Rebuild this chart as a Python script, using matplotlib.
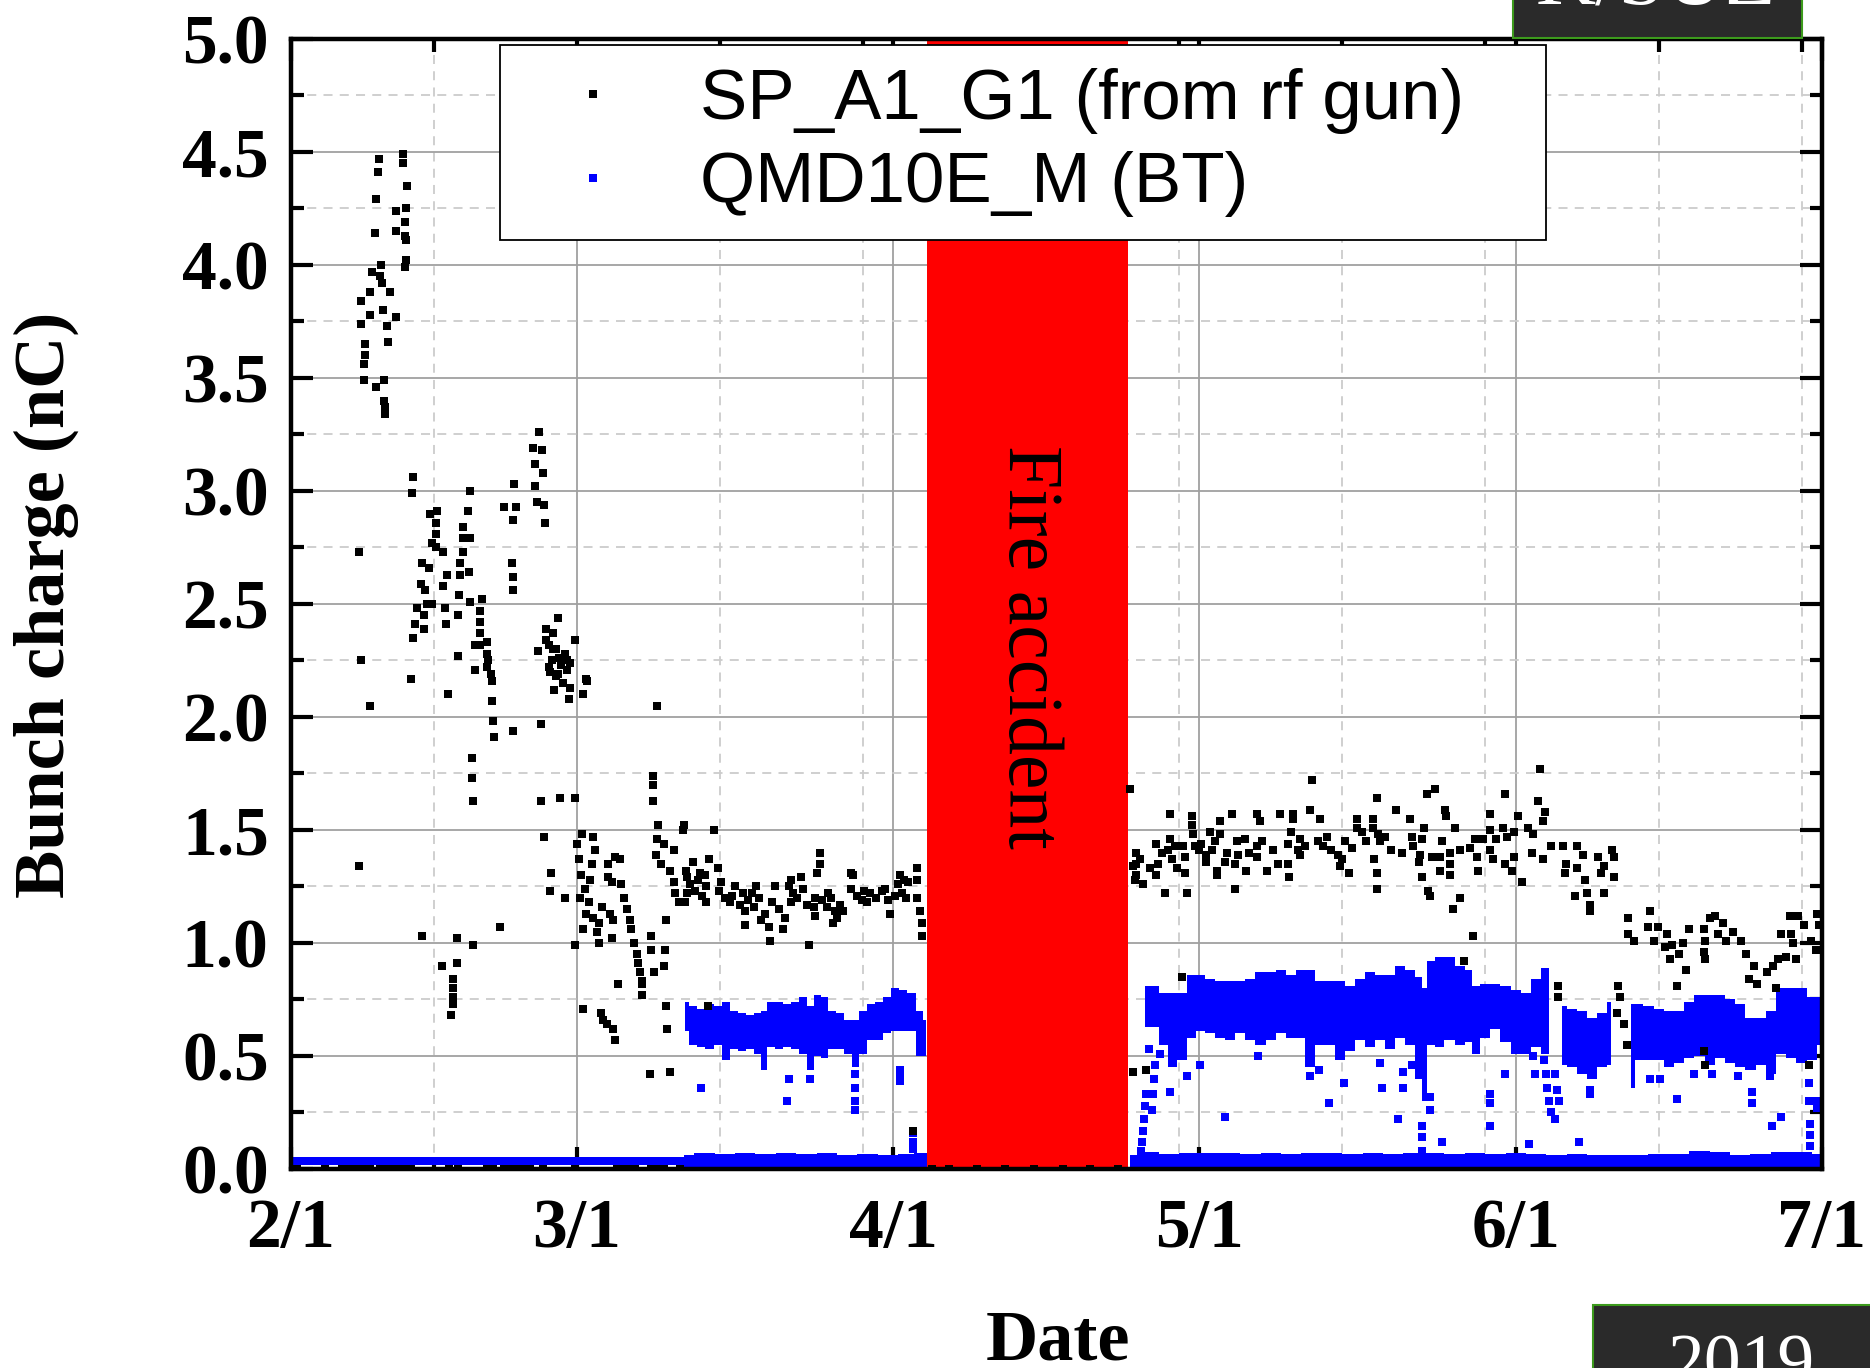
import matplotlib
matplotlib.use("Agg")
import matplotlib.pyplot as plt
from matplotlib.lines import Line2D
from matplotlib.patches import Rectangle

# x = days since 2019-02-01, y = bunch charge (nC)
date_ticks = [0, 28, 59, 89, 120, 150]
date_labels = ["2/1", "3/1", "4/1", "5/1", "6/1", "7/1"]
date_minor = [14, 42, 56, 73, 87, 103, 117, 134, 148]

fire_start, fire_end = 62.3, 82.0

# SP_A1_G1 (from rf gun), black points
sp_feb = [(6.7,1.34),(6.7,2.73),(6.9,2.25),(7.7,2.05),
    (8.6,4.47),(11.0,4.49),(11.0,4.45),(8.5,4.41),(11.4,4.35),(8.3,4.29),(10.3,4.24),(11.3,4.25),
    (11.2,4.19),(8.2,4.14),(10.3,4.15),(11.2,4.13),(11.3,4.11),(11.3,4.02),(11.2,3.99),(8.8,4.00),
    (7.9,3.97),(8.7,3.95),(8.9,3.92),(9.7,3.88),(7.7,3.88),(6.9,3.84),(9.0,3.80),(7.7,3.78),
    (10.3,3.77),(6.9,3.74),(9.4,3.73),(9.5,3.66),(7.3,3.65),(7.3,3.60),(7.2,3.56),(7.2,3.49),
    (9.1,3.49),(8.3,3.46),(9.1,3.40),(9.2,3.37),(9.2,3.34),
    (24.3,3.26),(23.7,3.19),(24.6,3.18),(23.9,3.12),(24.7,3.08),(21.9,3.03),(23.9,3.02),(17.5,3.00),
    (12.0,3.06),(11.9,2.99),(20.9,2.93),(22.0,2.93),(24.1,2.95),(24.8,2.94),(21.8,2.87),(24.9,2.86),
    (17.3,2.91),(14.3,2.91),(13.6,2.90),(14.2,2.86),(14.2,2.81),(14.2,2.75),(16.9,2.84),(16.9,2.79),
    (16.9,2.73),(17.5,2.79),(13.8,2.77),(14.9,2.73),(12.8,2.68),(13.5,2.66),(15.3,2.63),(16.6,2.68),
    (16.6,2.63),(17.4,2.64),(21.7,2.68),(21.8,2.62),(21.8,2.56),(12.7,2.59),(13.1,2.56),(14.9,2.58),
    (16.5,2.54),(17.5,2.51),(13.3,2.50),(13.8,2.50),(15.1,2.48),(12.3,2.48),(13.0,2.45),(16.4,2.45),
    (15.2,2.41),(12.2,2.41),(13.0,2.39),(12.0,2.35),(18.7,2.52),(18.5,2.47),(18.5,2.42),(18.5,2.37),
    (18.5,2.32),(19.2,2.33),(19.2,2.28),(19.2,2.22),(18.0,2.32),(16.4,2.27),(18.0,2.21),(26.2,2.44),
    (25.0,2.39),(25.7,2.37),(27.8,2.34),(24.2,2.29),(25.3,2.32),(26.0,2.30),(26.8,2.28),(25.6,2.25),
    (26.5,2.23),(27.3,2.24),(25.4,2.20),(26.2,2.19),(27.0,2.21),(28.9,2.17),(11.8,2.17),
    (15.4,2.10),(19.3,2.25),(19.6,2.19),(19.7,2.16),(19.7,2.07),(19.8,1.98),(19.9,1.91),(21.8,1.94),
    (24.5,1.97),(17.7,1.82),(17.7,1.73),(17.8,1.63),(24.5,1.63),(26.4,1.64),(27.8,1.64),(24.8,1.47),
    (25.5,1.31),(25.4,1.23),(26.8,1.20),(20.5,1.07),(12.8,1.03),(16.3,1.02),(17.8,0.99),(14.8,0.90),
    (16.3,0.91),(15.9,0.84),(15.9,0.80),(15.9,0.76),(15.9,0.73),(15.7,0.68),
    (25.0,2.34),(25.7,2.30),(26.3,2.26),(27.0,2.25),(25.3,2.22),(26.0,2.18),(26.7,2.15),(27.3,2.13),
    (25.8,2.12),(27.2,2.08),(28.6,2.10),(29.0,2.16),(27.8,0.99)]

sp_mar = [(28.5,1.48),(29.6,1.47),(28.0,1.44),(29.8,1.41),(28.2,1.37),(29.5,1.35),(28.4,1.30),
    (29.3,1.28),(28.8,1.24),(28.3,1.20),(29.2,1.18),(30.5,1.16),(28.9,1.13),(29.6,1.11),(30.2,1.09),
    (28.6,1.06),(30.0,1.05),(30.2,1.00),(28.6,0.71),(30.4,0.69),(30.6,0.66),(31.0,0.64),(31.6,0.62),
    (31.7,0.57),(31.1,1.35),(31.7,1.38),(32.2,1.37),(31.1,1.29),(31.5,1.27),(32.3,1.26),(32.6,1.20),
    (32.9,1.15),(33.2,1.10),(33.3,1.06),(33.6,1.00),(33.9,0.95),(34.0,0.91),(34.2,0.87),(34.4,0.83),
    (31.3,1.13),(31.6,1.10),(31.5,1.02),(34.4,0.82),(34.4,0.77),(32.0,0.82),(35.3,1.03),(35.3,0.97),
    (36.6,0.97),(36.5,0.90),(35.6,0.87),(36.7,1.10),(36.7,0.72),(36.8,0.62),(35.2,0.42),(37.1,0.43),
    (35.5,1.74),(35.5,1.70),(35.5,1.63),(35.9,2.05),(36.0,1.52),(38.5,1.52),(35.9,1.46),(36.5,1.44),
    (35.8,1.39),(37.5,1.41),(36.3,1.35),(37.1,1.32),(37.5,1.27),(37.6,1.22),(38.0,1.18),(38.7,1.32),
    (38.8,1.22),
    (38.4,1.50),(41.4,1.50),(39.4,1.36),(41.0,1.37),(41.8,1.33),(38.8,1.29),(40.1,1.31),(40.6,1.30),
    (39.1,1.26),(40.7,1.25),(39.6,1.23),(38.6,1.18),(40.7,1.18),(41.9,1.23),(42.5,1.20),(43.0,1.18),
    (43.5,1.25),(44.3,1.22),(44.0,1.17),(44.5,1.14),(44.5,1.08),(45.6,1.25),(45.9,1.20),(45.4,1.16),
    (46.4,1.13),(46.1,1.10),(46.8,1.07),(46.9,1.01),(47.4,1.25),(47.1,1.18),(48.4,1.11),(48.2,1.06),
    (49.0,1.28),(50.0,1.29),(50.2,1.24),(49.2,1.22),(49.0,1.18),(50.8,0.99),(51.8,1.40),(51.8,1.35),
    (51.5,1.31),(51.3,1.20),(51.2,1.16),(51.3,1.12),(52.6,1.22),(52.5,1.16),(53.3,1.14),(53.1,1.09),
    (54.1,1.14),(53.5,1.11),(54.9,1.31),(55.1,1.30),(54.9,1.24),(56.1,1.23),(55.9,1.19),(56.7,1.22),
    (58.2,1.24),(58.5,1.19),(59.2,1.21),(58.7,1.13),(59.7,1.30),(59.5,1.26),(60.5,1.27),(61.3,1.33),
    (61.3,1.28),(60.3,1.20),(61.3,1.20),(61.6,1.14),(61.8,1.09),(61.8,1.03),(60.9,0.17),(40.9,0.72),
    (39.9,1.28),(40.3,1.21),(42.1,1.27),(43.2,1.21),(44.8,1.19),(45.2,1.22),(47.8,1.15),(48.8,1.25),
    (49.6,1.20),(50.6,1.17),(52.0,1.19),(52.9,1.20),(53.8,1.17),(55.5,1.21),(56.4,1.18),(57.3,1.20),
    (57.9,1.23),(59.9,1.22),(60.1,1.28)]

sp_may = [(82.2,1.68),(82.5,0.43),(83.8,0.44),(87.3,0.85),
    (82.8,1.40),(82.8,1.35),(82.8,1.30),(82.7,1.28),(83.5,1.26),(82.5,1.34),(84.8,1.44),(85.3,1.40),
    (84.9,1.35),(84.8,1.30),(86.1,1.57),(86.1,1.46),(86.6,1.43),(87.4,1.43),(87.6,1.38),(86.3,1.37),
    (86.8,1.33),(87.6,1.31),(85.6,1.22),(87.8,1.22),(88.3,1.56),(88.3,1.52),(88.4,1.48),(88.6,1.43),
    (89.2,1.44),(89.7,1.39),(89.7,1.36),(90.7,1.32),(90.7,1.30),(90.0,1.49),(91.0,1.54),(91.0,1.48),
    (90.5,1.45),(91.7,1.40),(92.2,1.57),(91.5,1.36),(92.7,1.45),(93.5,1.46),(92.8,1.39),(92.5,1.35),
    (92.5,1.24),(93.6,1.32),(94.6,1.43),(94.6,1.38),(94.6,1.57),(94.9,1.54),(95.6,1.32),(96.9,1.57),
    (96.7,1.35),(97.7,1.35),(97.8,1.29),(98.0,1.49),(98.2,1.57),(98.2,1.55),(98.9,1.46),(97.7,1.44),
    (98.7,1.41),(98.9,1.39),(100.0,1.72),(99.8,1.59),(100.8,1.55),(100.6,1.45),(101.1,1.43),
    (101.9,1.41),(102.6,1.39),(103.0,1.37),(102.8,1.34),(103.3,1.45),(103.7,1.31),(104.4,1.55),
    (104.4,1.51),(104.9,1.49),(106.4,1.64),(106.0,1.55),(106.0,1.51),(106.5,1.48),(106.7,1.45),
    (106.1,1.37),(106.4,1.31),(106.4,1.24),(107.8,1.41),(108.3,1.59),(109.6,1.55),(109.8,1.47),
    (111.0,1.51),(110.8,1.46),(110.6,1.39),(110.5,1.36),(111.3,1.66),(112.1,1.68),(113.1,1.59),
    (113.2,1.56),(114.0,1.51),(112.8,1.45),(111.8,1.38),(112.6,1.38),(113.6,1.40),(114.5,1.41),
    (115.5,1.42),(113.6,1.35),(112.6,1.32),(113.6,1.30),(110.8,1.29),(111.4,1.23),(111.6,1.21),
    (114.5,1.20),(113.9,1.15),(115.8,1.03),(114.9,0.92),
    (83.2,1.37),(84.2,1.33),(85.9,1.41),(89.0,1.41),(90.2,1.41),(93.9,1.40),(95.1,1.45),(96.2,1.41),
    (99.4,1.43),(101.5,1.47),(104.0,1.42),(105.3,1.45),(107.2,1.47),(108.9,1.40),(109.9,1.43)]

sp_jun = [(122.4,1.77),(118.9,1.66),(117.5,1.57),(120.2,1.56),(122.2,1.63),(122.9,1.58),(122.7,1.54),
    (117.5,1.50),(118.8,1.51),(119.8,1.49),(121.2,1.51),(121.7,1.48),(116.0,1.46),(116.8,1.46),
    (118.1,1.46),(119.1,1.47),(116.2,1.38),(117.5,1.41),(117.8,1.37),(118.9,1.35),(119.8,1.38),
    (116.3,1.32),(119.6,1.32),(120.6,1.27),(121.6,1.40),(122.7,1.37),(123.5,1.43),(124.6,1.43),
    (126.0,1.43),(126.6,1.39),(124.9,1.35),(126.0,1.33),(124.8,1.31),(125.8,1.21),(126.8,1.28),
    (127.0,1.22),(127.3,1.17),(127.3,1.14),(128.1,1.38),(129.4,1.41),(129.6,1.38),(128.6,1.34),
    (128.4,1.31),(129.6,1.29),(128.6,1.22),
    (131.0,1.11),(131.0,1.04),(131.6,1.01),(133.2,1.14),(133.0,1.07),(133.5,1.01),(133.9,1.07),
    (134.8,1.04),(134.6,0.98),(135.3,0.99),(135.1,0.93),(136.0,0.95),(136.4,1.00),(137.0,1.06),
    (136.7,0.88),(135.8,0.81),(138.4,1.06),(139.0,1.11),(139.5,1.12),(138.5,1.01),(138.4,0.96),
    (138.5,0.93),(140.3,1.09),(141.3,1.05),(140.6,1.01),(139.8,1.04),(142.1,1.01),(142.6,0.95),
    (143.3,0.90),(142.9,0.84),(143.6,0.82),(144.6,0.87),(145.2,0.90),(145.7,0.93),(146.5,0.94),
    (147.5,0.93),(146.0,1.04),(147.0,1.04),(147.2,1.00),(147.7,1.12),(146.9,1.12),(148.2,1.08),
    (148.9,1.01),(149.4,0.97),(149.5,1.13),(149.7,1.08),(145.5,0.80),
    (124.1,0.81),(124.1,0.76),(130.0,0.81),(130.2,0.76),(129.9,0.69),(130.6,0.64),(130.9,0.55),
    (138.4,0.52),(138.5,0.46),(148.7,0.46)]

sp_zero_days = [0.2, 0.6, 3.3, 5.0, 5.5, 6.0, 6.6, 7.2, 7.7, 8.7, 9.2, 9.8, 10.6, 11.2, 11.8, 15.5,
    16.4, 19.2, 19.8, 20.9, 21.6, 22.2, 22.8, 23.4, 24.7, 27.8, 31.9, 32.5, 33.1, 33.7, 35.3, 35.9,
    36.5, 38.1, 62.8, 64.5, 67.2, 70.0, 72.8, 75.6, 78.3, 81.0]

# QMD10E_M (BT), blue: dense bands read as (day, top, bottom) envelopes
qm_base = [(0.0, 0.055, 0.018), (38.5, 0.055, 0.018)]
qm_low_mar = [(38.5,0.06,0.0),(40.5,0.07,0.0),(42.5,0.065,0.0),(44.5,0.07,0.0),(46.5,0.065,0.0),
    (48.5,0.07,0.0),(50.5,0.065,0.0),(52.5,0.07,0.0),(54.5,0.06,0.0),(56.5,0.065,0.0),
    (58.5,0.06,0.0),(60.5,0.065,0.0),(61.5,0.07,0.0),(62.3,0.07,0.0)]
qm_low_may = [(82.2,0.06,-0.01),(84,0.075,-0.01),(86,0.065,0.0),(88,0.07,0.0),(90,0.07,0.0),
    (92,0.07,0.0),(94,0.065,0.0),(96,0.07,0.0),(98,0.065,0.0),(100,0.07,0.0),(102,0.07,0.0),
    (104,0.065,0.0),(106,0.07,0.0),(108,0.065,0.0),(110,0.07,0.0),(112,0.07,0.0),(114,0.065,0.0),
    (116,0.07,0.0),(118,0.065,0.0),(120,0.07,0.0),(122,0.065,0.0),(124,0.06,0.0),(126,0.065,0.0),
    (128,0.06,0.0),(130,0.06,0.0),(132,0.06,0.0),(134,0.065,0.0),(136,0.065,0.0),(138,0.08,0.0),
    (140,0.075,0.0),(142,0.06,0.0),(144,0.065,0.0),(146,0.075,0.0),(148,0.075,0.0),(150,0.065,0.0)]

qm_band_mar = [(38.6,0.74,0.61),(39.4,0.72,0.55),(40.2,0.71,0.54),(41.0,0.73,0.53),(41.8,0.72,0.55),
    (42.6,0.74,0.48),(43.4,0.70,0.53),(44.2,0.69,0.52),(45.0,0.68,0.53),(45.8,0.69,0.51),
    (46.3,0.70,0.44),(47.0,0.74,0.54),(47.8,0.74,0.53),(48.6,0.73,0.54),(49.4,0.74,0.53),
    (50.2,0.76,0.51),(50.9,0.72,0.44),(51.6,0.77,0.50),(52.3,0.76,0.49),(53.0,0.70,0.53),
    (53.8,0.69,0.53),(54.6,0.66,0.51),(55.3,0.66,0.45),(56.0,0.70,0.51),(56.8,0.73,0.57),
    (57.6,0.74,0.57),(58.4,0.76,0.60),(59.2,0.80,0.61),(60.0,0.79,0.61),(60.8,0.78,0.61),
    (61.6,0.70,0.50),(62.2,0.66,0.50)]
qm_band_may = [(83.7,0.81,0.63),(84.6,0.81,0.63),(85.5,0.78,0.55),(86.4,0.78,0.45),(87.3,0.78,0.48),
    (88.2,0.86,0.58),(89.1,0.86,0.61),(90.0,0.84,0.60),(91.0,0.83,0.58),(92.0,0.83,0.57),
    (93.0,0.83,0.60),(94.0,0.84,0.57),(95.0,0.87,0.55),(96.0,0.87,0.57),(97.0,0.88,0.60),
    (98.0,0.86,0.58),(99.0,0.88,0.58),(99.8,0.88,0.45),(100.8,0.83,0.55),(101.8,0.83,0.55),
    (102.8,0.83,0.48),(103.8,0.81,0.52),(104.7,0.84,0.57),(105.7,0.87,0.54),(106.7,0.86,0.57),
    (107.7,0.86,0.53),(108.7,0.90,0.58),(109.6,0.88,0.55),(110.6,0.85,0.40),(111.0,0.80,0.30),
    (111.6,0.92,0.55),(112.5,0.94,0.54),(113.5,0.94,0.57),(114.5,0.90,0.55),(115.5,0.88,0.56),
    (116.0,0.81,0.51),(117.0,0.82,0.58),(118.0,0.82,0.62),(119.0,0.81,0.56),(120.0,0.79,0.51),
    (121.0,0.78,0.51),(122.0,0.84,0.54),(123.0,0.89,0.51),(123.3,0.89,0.51)]
qm_band_jun1 = [(124.5,0.72,0.46),(125.5,0.71,0.45),(126.5,0.70,0.42),(127.5,0.67,0.40),
    (128.5,0.69,0.45),(129.3,0.74,0.46)]
qm_band_jun2 = [(131.3,0.73,0.36),(132.0,0.73,0.48),(133.0,0.72,0.48),(134.0,0.71,0.48),
    (135.0,0.70,0.45),(136.0,0.70,0.47),(137.0,0.74,0.49),(138.0,0.77,0.50),(139.0,0.77,0.46),
    (140.0,0.77,0.49),(141.0,0.75,0.47),(142.0,0.73,0.45),(143.0,0.67,0.44),(144.0,0.67,0.46),
    (145.0,0.70,0.42),(146.0,0.80,0.51),(147.0,0.80,0.49),(148.0,0.80,0.47),(149.0,0.76,0.48),
    (150.0,0.76,0.55)]

qm_points = [(40.2,0.36),(48.8,0.40),(48.6,0.30),(50.9,0.40),(59.7,0.44),(59.7,0.41),(59.7,0.39),
    (55.3,0.42),(55.3,0.36),(55.3,0.30),(55.3,0.26),(60.9,0.16),(60.9,0.12),(60.9,0.09),
    (83.3,0.08),(83.4,0.12),(83.5,0.17),(83.6,0.22),(83.7,0.28),(83.8,0.33),(84.4,0.26),(84.5,0.33),
    (84.6,0.40),(84.7,0.46),(84.1,0.53),(85.1,0.51),(86.1,0.34),(89.1,0.46),(87.8,0.41),(91.5,0.23),
    (94.7,0.50),(99.8,0.47),(99.8,0.41),(100.7,0.44),(101.7,0.29),(103.2,0.38),(106.7,0.47),
    (106.9,0.36),(108.5,0.22),(109.0,0.43),(109.0,0.36),(109.8,0.46),(110.8,0.19),(110.8,0.14),
    (110.8,0.08),(111.6,0.32),(111.6,0.26),(112.8,0.12),
    (118.9,0.42),(117.5,0.33),(117.5,0.29),(117.5,0.19),(121.3,0.11),(121.7,0.50),(121.9,0.42),
    (122.8,0.48),(123.0,0.42),(123.1,0.36),(123.3,0.30),(123.5,0.25),(123.8,0.22),(123.8,0.42),
    (124.0,0.35),(124.2,0.30),(126.2,0.12),(127.3,0.35),(127.3,0.33),(133.2,0.40),(134.1,0.40),
    (135.8,0.31),(137.5,0.42),(139.2,0.42),(141.8,0.41),(143.1,0.34),(143.1,0.29),(144.9,0.41),
    (145.1,0.19),(146.0,0.23),(148.7,0.38),(148.7,0.30),(149.5,0.30),(149.5,0.27),(148.8,0.20),
    (148.8,0.15),(148.8,0.10)]

BLUE = "#0000ff"
MS = 6.2
plt.rcParams["font.family"] = ["Liberation Serif", "DejaVu Serif"]
plt.rcParams["font.weight"] = "bold"

fig = plt.figure(figsize=(18.7, 13.68), dpi=100)
ax = fig.add_axes([0.1556, 0.1455, 0.8187, 0.826])

# fire period
ax.axvspan(fire_start, fire_end, color="#ff0000", lw=0, zorder=1.5)
ax.text((fire_start + fire_end) / 2, 2.31, "Fire accident", rotation=270, ha="center", va="center",
        fontsize=56, fontweight="normal", zorder=3)

# blue bands
for band in [qm_base, qm_low_mar, qm_low_may, qm_band_mar, qm_band_may, qm_band_jun1, qm_band_jun2]:
    d = [b[0] for b in band]
    hi = [b[1] for b in band]
    lo = [b[2] for b in band]
    ax.fill_between(d, lo, hi, step="mid", color=BLUE, lw=0, zorder=2.2)
ax.plot([p[0] for p in qm_points], [p[1] for p in qm_points], "s", color=BLUE, ms=MS, mew=0,
        zorder=2.2)

# black points
sp_all = sp_feb + sp_mar + sp_may + sp_jun
ax.plot([p[0] for p in sp_all], [p[1] for p in sp_all], "s", color="k", ms=MS, mew=0, zorder=2.5)
ax.plot(sp_zero_days, [0.0] * len(sp_zero_days), "s", color="k", ms=MS, mew=0, zorder=2.1)

ax.set_xlim(0, 150)
ax.set_ylim(0, 5)
ax.set_xticks(date_ticks)
ax.set_xticklabels(date_labels)
ax.set_xticks(date_minor, minor=True)
yt = [0, 0.5, 1, 1.5, 2, 2.5, 3, 3.5, 4, 4.5, 5]
ax.set_yticks(yt)
ax.set_yticklabels(["%.1f" % v for v in yt])
ax.set_yticks([0.25 + 0.5 * i for i in range(10)], minor=True)

ax.set_axisbelow(True)
ax.grid(which="major", color="#a0a0a0", lw=1.3, ls="-")
ax.grid(which="minor", color="#cccccc", lw=1.3, ls=(0, (5, 4)))
ax.tick_params(which="both", direction="in", top=True, right=True, width=3, labelsize=50)
ax.tick_params(which="major", length=16)
ax.tick_params(which="minor", length=9)
ax.tick_params(axis="y", pad=16)
ax.tick_params(axis="x", pad=21)
for s in ax.spines.values():
    s.set_linewidth(3.2)

handles = [Line2D([], [], marker="s", ls="", color="k", ms=MS, mew=0),
           Line2D([], [], marker="s", ls="", color=BLUE, ms=MS, mew=0)]
leg = ax.legend(handles, ["SP_A1_G1 (from rf gun)", "QMD10E_M (BT)"], loc="upper left",
                bbox_to_anchor=(0.1365, 0.823, 0.683, 0.1717), mode="expand", fancybox=False,
                framealpha=1, edgecolor="black", borderpad=0.32, labelspacing=0.25,
                handlelength=2.0, handletextpad=0.5, borderaxespad=0,
                prop={"family": "Liberation Sans", "size": 51, "weight": "normal"})
leg.get_frame().set_linewidth(1.3)
leg.set_zorder(5)

fig.text(46 / 1870, 1 - 605 / 1368, "Bunch charge (nC)", rotation=90, ha="center", va="center",
         fontsize=52)
fig.text(1058 / 1870, 1 - 1360 / 1368, "Date", ha="center", va="baseline", fontsize=52)

# corner boxes
fig.patches.append(Rectangle((1513 / 1870, 1 - 38 / 1368), 289 / 1870, 60 / 1368,
                             transform=fig.transFigure, facecolor="#2a2a2a",
                             edgecolor="#3c9a1c", lw=1.5))
fig.text(1656 / 1870, 1 - 4 / 1368, "K/SUZ", ha="center", va="baseline", fontsize=60,
         color="white", fontweight="normal")
fig.patches.append(Rectangle((1593 / 1870, -0.05), 300 / 1870, 0.05 + 63 / 1368,
                             transform=fig.transFigure, facecolor="#2a2a2a",
                             edgecolor="#3c9a1c", lw=1.5))
fig.text(1741 / 1870, 1 - 1386 / 1368, "2019", ha="center", va="baseline", fontsize=53,
         color="white", fontweight="normal")

fig.savefig("out.png", dpi=100)
